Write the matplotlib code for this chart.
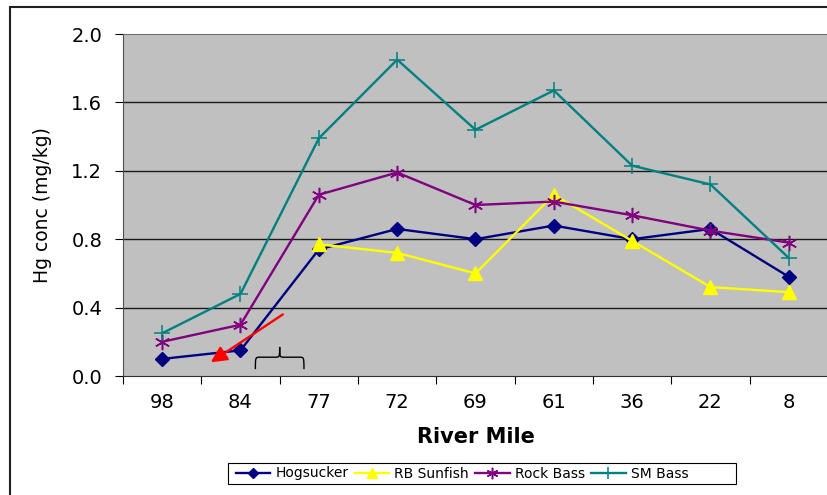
import numpy as np
import matplotlib.pyplot as plt
from matplotlib.patches import Rectangle, FancyArrowPatch, PathPatch
from matplotlib.path import Path

river_mile = ['98', '84', '77', '72', '69', '61', '36', '22', '8']
hogsucker = [0.10, 0.15, 0.74, 0.86, 0.80, 0.88, 0.80, 0.86, 0.58]
rb_sunfish = [np.nan, np.nan, 0.77, 0.72, 0.60, 1.06, 0.79, 0.52, 0.49]
rock_bass = [0.20, 0.30, 1.06, 1.19, 1.00, 1.02, 0.94, 0.85, 0.78]
sm_bass = [0.25, 0.48, 1.39, 1.85, 1.44, 1.67, 1.23, 1.12, 0.69]
y_ticks = [0.0, 0.4, 0.8, 1.2, 1.6, 2.0]

plt.rcParams['font.family'] = ['DejaVu Sans']

fig = plt.figure(figsize=(8.28, 4.95), dpi=100)
# outer chart border (right/bottom edges fall outside the image)
fig.patches.append(Rectangle((10/828, -0.1), 1.0, 1.0 + 0.1 - 7/495, transform=fig.transFigure,
                             fill=False, edgecolor='#202020', linewidth=1.5))

ax = fig.add_axes([123/828, 1 - 376/495, 1 - 123/828, (376 - 34)/495])
ax.set_facecolor('#C0C0C0')
x = np.arange(len(river_mile))

ax.set_ylim(0, 2.0)
ax.set_xlim(-0.5, len(river_mile) - 0.5)
ax.set_yticks(y_ticks)
ax.set_yticklabels(['%.1f' % v for v in y_ticks], fontsize=14)
ax.set_xticks(np.arange(-0.5, len(river_mile), 1.0))
ax.set_xticklabels([])
ax.set_xticks(x, minor=True)
ax.set_xticklabels(river_mile, minor=True, fontsize=14)
ax.tick_params(axis='x', which='minor', length=0, pad=12)
ax.tick_params(axis='x', which='major', length=6, direction='out', width=0.8)
ax.tick_params(axis='y', length=6, direction='out', width=0.8, pad=9)

for v in y_ticks[1:-1]:
    ax.axhline(v, color='#1a1a1a', linewidth=1.0, zorder=1)

ax.spines['right'].set_visible(False)
ax.spines['top'].set_color('#707070')
ax.spines['left'].set_color('#505050')
ax.spines['bottom'].set_color('#303030')

ax.plot(x, hogsucker, color='#000080', marker='D', markersize=7, linewidth=1.7, label='Hogsucker', zorder=3)
ax.plot(x, rb_sunfish, color='#FFFF00', marker='^', markersize=10, linewidth=1.7, label='RB Sunfish', zorder=3)
ax.plot(x, rock_bass, color='#800080', marker=(6, 2, 0), markersize=11, markeredgewidth=1.1,
        linewidth=1.7, label='Rock Bass', zorder=3)
ax.plot(x, sm_bass, color='#008080', marker='+', markersize=11, markeredgewidth=1.1,
        linewidth=1.7, label='SM Bass', zorder=3)

# red arrow pointing to the 84 site
ax.add_patch(FancyArrowPatch((1.54, 0.36), (0.62, 0.08), arrowstyle='-|>', mutation_scale=24,
                             color='#FF0000', linewidth=1.7, zorder=4, shrinkA=0, shrinkB=0))

# curly brace between 84 and 77
cx, w = 1.5, 0.31
y0, ym, yt = 0.04, 0.11, 0.17
verts = [(cx - w, y0), (cx - w, ym), (cx - w, ym), (cx - w + 0.06, ym),
         (cx - 0.06, ym), (cx, ym), (cx, ym), (cx, yt),
         (cx, ym), (cx, ym), (cx + 0.06, ym),
         (cx + w - 0.06, ym), (cx + w, ym), (cx + w, ym), (cx + w, y0)]
codes = [Path.MOVETO, Path.CURVE4, Path.CURVE4, Path.CURVE4,
         Path.LINETO, Path.CURVE4, Path.CURVE4, Path.CURVE4,
         Path.CURVE4, Path.CURVE4, Path.CURVE4,
         Path.LINETO, Path.CURVE4, Path.CURVE4, Path.CURVE4]
ax.add_patch(PathPatch(Path(verts, codes), fill=False, edgecolor='black', linewidth=1.0, zorder=4))

ax.set_xlabel('River Mile', fontsize=15, fontweight='bold', labelpad=11)
ax.set_ylabel('Hg conc (mg/kg)', fontsize=13.5, labelpad=14)

# legend box drawn separately to match the wide Excel-style frame
fig.patches.append(Rectangle((228/828, 1 - 484/495), (736 - 228)/828, 21/495,
                             transform=fig.transFigure, fill=True, facecolor='white',
                             edgecolor='black', linewidth=0.8))
leg = fig.legend(loc='center left', bbox_to_anchor=(226/828, 1 - 473.5/495), ncol=4, fontsize=10,
                 frameon=False, handlelength=2.5, columnspacing=0.45, handletextpad=0.35,
                 borderpad=0.2, markerscale=0.75)

plt.savefig('out.png', dpi=100)
